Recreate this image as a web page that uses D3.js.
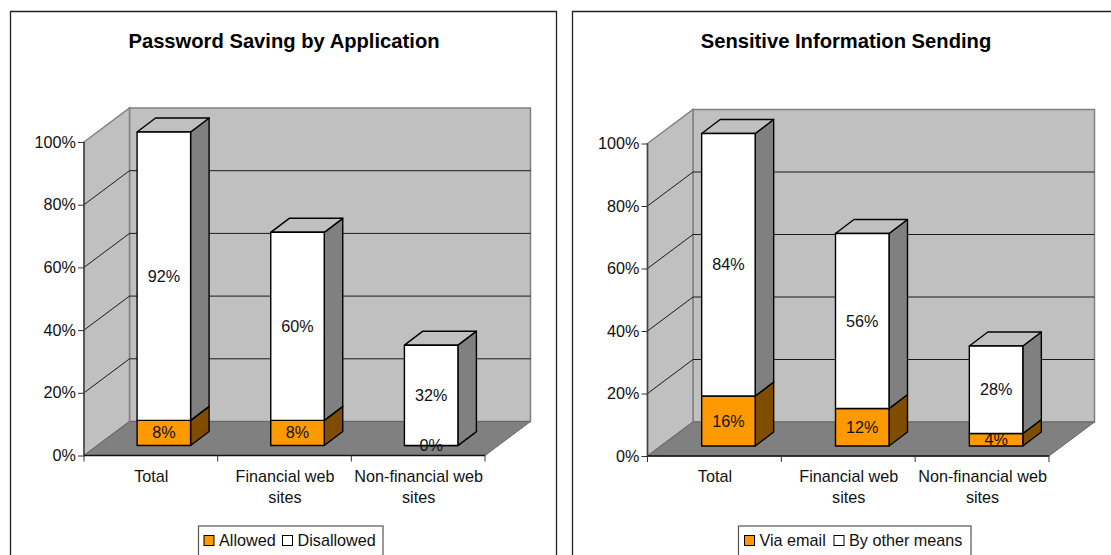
<!DOCTYPE html>
<html>
<head>
<meta charset="utf-8">
<title>Password saving and sensitive information</title>
<script src="https://cdn.jsdelivr.net/npm/d3@7"></script>
<style>
html, body { margin: 0; padding: 0; background: #fff; overflow: hidden; }
svg { display: block; }
text { font-family: "Liberation Sans", Arial, sans-serif; fill: #111; }
</style>
</head>
<body>
<div id="chart"></div>
<script>
var categories = [["Total"], ["Financial web", "sites"], ["Non-financial web", "sites"]];
var yTicks = [0, 20, 40, 60, 80, 100];

var allowed = [8, 8, 0];
var disallowed = [92, 60, 32];
var viaEmail = [16, 12, 4];
var otherMeans = [84, 56, 28];

var w = 1111;
var h = 555;
var labelSize = "16.2px";

var svg = d3.select("#chart").append("svg")
    .attr("width", w).attr("height", h);

//Draw one 3D stacked column panel
function stackedPanel(par){
    var g = svg.append("g");

    var depthX = 45.5;
    var depthY = -34;
    var barDepthX = 18.5;
    var barDepthY = -14;
    var barWidth = 53.5;

    var x0 = par.left, x1 = par.right;

    var xScale = d3.scaleBand()
        .domain(categories.map(function(d){ return d.join(" "); }))
        .range([x0, x1]);

    var yScale = d3.scaleLinear()
        .domain([0, 100])
        .range([par.y0, par.y100]);

    //Panel frame, cut off by the edge of the page
    g.append("path")
        .attr("d", par.frame)
        .attr("fill", "none")
        .attr("stroke", "#222")
        .attr("stroke-width", 1.3);

    g.append("text")
        .attr("x", par.titleX)
        .attr("y", 47.5)
        .attr("text-anchor", "middle")
        .style("font-size", "20.2px")
        .style("font-weight", "bold")
        .style("fill", "#000")
        .text(par.title);

    //Back wall, side wall and floor
    var top = yScale(100), bottom = yScale(0);
    g.append("path")
        .attr("d", d3.line()([[x0 + depthX, top + depthY], [x1 + depthX, top + depthY], [x1 + depthX, bottom + depthY], [x0 + depthX, bottom + depthY]]) + "Z")
        .attr("fill", "#c0c0c0").attr("stroke", "#808080").attr("stroke-width", 1.5);
    g.append("path")
        .attr("d", d3.line()([[x0, top], [x0 + depthX, top + depthY], [x0 + depthX, bottom + depthY], [x0, bottom]]) + "Z")
        .attr("fill", "#c0c0c0").attr("stroke", "#808080").attr("stroke-width", 1.5);
    g.append("path")
        .attr("d", d3.line()([[x0, bottom], [x1, bottom], [x1 + depthX, bottom + depthY], [x0 + depthX, bottom + depthY]]) + "Z")
        .attr("fill", "#808080").attr("stroke", "#666").attr("stroke-width", 1);

    //Gridlines run along the side wall and across the back wall
    var grid = yTicks.filter(function(d){ return d > 0 && d < 100; });
    g.selectAll(".grid")
        .data(grid)
        .enter()
        .append("path")
        .attr("class", "grid")
        .attr("fill", "none")
        .attr("stroke", "#1a1a1a")
        .attr("stroke-width", 1)
        .attr("d", function(d){
            var y = yScale(d);
            return d3.line()([[x0, y], [x0 + depthX, y + depthY], [x1 + depthX, y + depthY]]);
        });

    //Axes
    var yAxis = d3.axisLeft(yScale)
        .tickValues(yTicks)
        .tickSize(6)
        .tickFormat(function(d){ return d + "%"; });
    var yg = g.append("g")
        .attr("transform", "translate(" + x0 + ",0)")
        .call(yAxis);
    yg.select(".domain")
        .attr("stroke", "#444")
        .attr("stroke-width", 1.5)
        .attr("d", "M0," + top + "V" + bottom);
    yg.selectAll(".tick line").attr("stroke", "#333");
    yg.selectAll(".tick text")
        .attr("x", -8)
        .style("font-size", labelSize)
        .style("font-family", "Liberation Sans");

    var xAxis = d3.axisBottom(xScale).tickValues([]);
    var xg = g.append("g").attr("transform", "translate(0," + bottom + ")").call(xAxis);
    xg.select(".domain")
        .attr("stroke", "#111")
        .attr("stroke-width", 1.3)
        .attr("d", "M" + x0 + ",0H" + x1);
    g.selectAll(".xtick")
        .data(d3.range(categories.length + 1))
        .enter()
        .append("line")
        .attr("class", "xtick")
        .attr("x1", function(i){ return x0 + i * xScale.step(); })
        .attr("x2", function(i){ return x0 + i * xScale.step(); })
        .attr("y1", bottom)
        .attr("y2", bottom + 6)
        .attr("stroke", "#333");

    //Category labels, wrapped on two lines
    var labels = g.selectAll(".cat")
        .data(categories)
        .enter()
        .append("text")
        .attr("class", "cat")
        .attr("text-anchor", "middle")
        .style("font-size", labelSize);
    labels.selectAll("tspan")
        .data(function(d){
            return d.map(function(t, i){ return {t: t, i: i, key: d.join(" ")}; });
        })
        .enter()
        .append("tspan")
        .attr("x", function(d){ return xScale(d.key) + xScale.bandwidth() / 2 + par.labelShift; })
        .attr("y", function(d){ return bottom + 26 + d.i * 21; })
        .text(function(d){ return d.t; });

    //Columns, drawn from the first series up
    var stack = d3.stack().keys(["a", "b"])(categories.map(function(c, i){
        return {name: c.join(" "), a: par.lower[i], b: par.upper[i]};
    }));
    var colours = [
        {front: "#ff9900", side: "#7f4c00", top: "#ff9900"},
        {front: "#ffffff", side: "#808080", top: "#c0c0c0"}
    ];
    var barY = d3.scaleLinear()
        .domain([0, 100])
        .range([bottom - 10, top - 10]);

    stack.forEach(function(layer, s){
        var col = colours[s];
        var bars = g.append("g").selectAll("g")
            .data(layer)
            .enter()
            .append("g")
            .attr("stroke", "#000")
            .attr("stroke-width", 1.4)
            .attr("stroke-linejoin", "round");

        function left(d){ return xScale(d.data.name) + (xScale.bandwidth() - barWidth) / 2 + par.barShift; }

        bars.append("path")
            .attr("fill", col.side)
            .attr("d", function(d){
                var r = left(d) + barWidth, a = barY(d[0]), b = barY(d[1]);
                return d3.line()([[r, a], [r + barDepthX, a + barDepthY], [r + barDepthX, b + barDepthY], [r, b]]) + "Z";
            });
        bars.append("path")
            .attr("fill", col.top)
            .attr("d", function(d){
                var l = left(d), b = barY(d[1]);
                return d3.line()([[l, b], [l + barDepthX, b + barDepthY], [l + barWidth + barDepthX, b + barDepthY], [l + barWidth, b]]) + "Z";
            });
        bars.append("rect")
            .attr("fill", col.front)
            .attr("x", left)
            .attr("y", function(d){ return barY(d[1]); })
            .attr("width", barWidth)
            .attr("height", function(d){ return barY(d[0]) - barY(d[1]); });
    });

    //Value labels go on top of every column
    stack.forEach(function(layer){
        g.append("g").selectAll("text")
            .data(layer)
            .enter()
            .append("text")
            .attr("text-anchor", "middle")
            .style("font-size", labelSize)
            .attr("x", function(d){ return xScale(d.data.name) + xScale.bandwidth() / 2 + par.barShift; })
            .attr("y", function(d){ return (barY(d[0]) + barY(d[1])) / 2 + 5.5; })
            .text(function(d){ return (d[1] - d[0]) + "%"; });
    });

    //Legend box runs off the bottom edge
    var lg = g.append("g");
    lg.append("rect")
        .attr("x", par.legend[0]).attr("y", 526)
        .attr("width", par.legend[1] - par.legend[0]).attr("height", 40)
        .attr("fill", "#fff").attr("stroke", "#555").attr("stroke-width", 1.2);
    par.keys.forEach(function(k, i){
        lg.append("rect")
            .attr("x", k.x).attr("y", 535.5)
            .attr("width", 10).attr("height", 10)
            .attr("fill", colours[i].front)
            .attr("stroke", "#000").attr("stroke-width", 1);
        lg.append("text")
            .attr("x", k.x + 15).attr("y", 546)
            .style("font-size", labelSize)
            .text(k.label);
    });
}

stackedPanel({
    title: "Password Saving by Application",
    titleX: 284,
    frame: "M10.5,560V11.5H556.5V560",
    left: 84, right: 485, y0: 455.5, y100: 142,
    lower: allowed, upper: disallowed,
    barShift: 13, labelShift: 0.5,
    legend: [198.5, 383],
    keys: [{label: "Allowed", x: 204}, {label: "Disallowed", x: 282.5}]
});

stackedPanel({
    title: "Sensitive Information Sending",
    titleX: 846,
    frame: "M572.5,560V11.5H1112",
    left: 647.5, right: 1049, y0: 456, y100: 143.5,
    lower: viaEmail, upper: otherMeans,
    barShift: 14, labelShift: 0.5,
    legend: [738.5, 971],
    keys: [{label: "Via email", x: 744.5}, {label: "By other means", x: 834}]
});
</script>
</body>
</html>
